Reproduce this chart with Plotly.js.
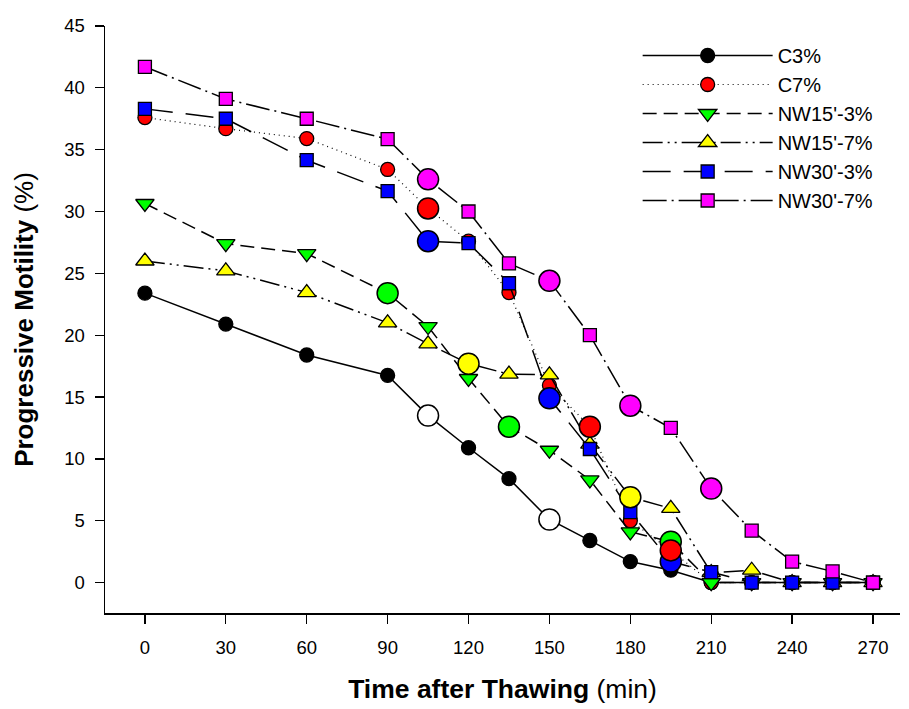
<!DOCTYPE html>
<html><head><meta charset="utf-8">
<script src="https://cdn.plot.ly/plotly-3.0.1.min.js"></script>
<style>body{margin:0;background:#fff;}#chart{width:909px;height:709px;}</style>
</head><body><div id="chart"></div>
<script>
// ---- data ----
const times = [0,30,60,90,105,120,135,150,165,180,195,210,225,240,255,270];
const seriesNames = ["C3%","C7%","NW15'-3%","NW15'-7%","NW30'-3%","NW30'-7%"];
const c3     = [23.4,20.9,18.4,16.75,13.5,10.9,8.4,5.1,3.4,1.7,1.0,0,0,0,0,0];
const c7     = [37.6,36.7,35.9,33.4,30.25,27.6,23.45,15.95,12.6,5.0,2.6,0,0,0,0,0];
const nw15_3 = [30.65,27.4,26.6,23.4,20.7,16.5,12.6,10.7,8.3,4.1,3.3,0,0,0,0,0];
const nw15_7 = [26.0,25.2,23.45,21.0,19.3,17.7,16.85,16.8,11.2,6.9,6.0,0.8,1.0,0,0,0];
const nw30_3 = [38.3,37.5,34.15,31.65,27.6,27.45,24.2,14.9,10.8,5.7,1.7,0.85,0,0,0,0];
const nw30_7 = [41.7,39.1,37.5,35.85,32.6,30.0,25.8,24.4,20.0,14.3,12.5,7.6,4.2,1.7,0.9,0];
// time points that are marked with a large circle in each series
const hiC3     = [105,150];
const hiC7     = [105,165,195];
const hiNW15_3 = [90,135,195];
const hiNW15_7 = [120,180];
const hiNW30_3 = [105,150,195];
const hiNW30_7 = [105,150,180,210];
const xTicks = [0,30,60,90,120,150,180,210,240,270];
const yTicks = [0,5,10,15,20,25,30,35,40,45];

// ---- styles ----
const allValues = [c3,c7,nw15_3,nw15_7,nw30_3,nw30_7];
const allHi = [hiC3,hiC7,hiNW15_3,hiNW15_7,hiNW30_3,hiNW30_7];
const fills = ['#000000','#FF0000','#00FF00','#FFFF00','#0000FF','#FF00FF'];
const hiFills = ['#FFFFFF','#FF0000','#00FF00','#FFFF00','#0000FF','#FF00FF'];
const symbols = ['circle','circle','triangle-down','triangle-up','square','square'];
const sizes = [14,14,16,16,13,13];
const dashes = ['solid','1px,4px','14px,7px','20px,5px,2px,5px,2px,5px','28px,13px','24px,5px,2px,5px'];
const widths = [1.5,1.2,1.5,1.5,1.5,1.5];
const hiOrder = [0,2,4,3,5,1];

const traces = [];
for (let i = 0; i < allValues.length; i++) {
  traces.push({
    x: times, y: allValues[i], name: seriesNames[i], type: 'scatter', mode: 'lines+markers',
    line: {color: '#000', width: widths[i], dash: dashes[i]},
    marker: {symbol: symbols[i], size: sizes[i], color: fills[i], line: {color: '#000', width: 1.3}},
    legendgroup: 'g' + i
  });
}
for (const i of hiOrder) {
  const hx = allHi[i];
  const hy = hx.map(t => allValues[i][times.indexOf(t)]);
  traces.push({
    x: hx, y: hy, type: 'scatter', mode: 'markers', showlegend: false, hoverinfo: 'skip',
    marker: {symbol: 'circle', size: 21, color: hiFills[i], line: {color: '#000', width: 1.5}}
  });
}

const font = 'Arial, "Liberation Sans", sans-serif';
const layout = {
  width: 909, height: 709,
  margin: {l: 105, r: 9, t: 26, b: 96},
  paper_bgcolor: '#fff', plot_bgcolor: '#fff',
  font: {family: font, color: '#000', size: 18},
  showlegend: true,
  legend: {
    x: 0.67, y: 0.983, xanchor: 'left', yanchor: 'top',
    bgcolor: 'rgba(0,0,0,0)', borderwidth: 0,
    font: {family: font, size: 20, color: '#000'},
    itemwidth: 130, tracegroupgap: 0
  },
  xaxis: {
    range: [-14.8, 280], tickmode: 'array', tickvals: xTicks,
    ticks: 'outside', ticklen: 9, tickwidth: 1.3, tickcolor: '#000',
    showline: true, linecolor: '#000', linewidth: 1.5, showgrid: false, zeroline: false,
    tickfont: {family: font, size: 18.5}, ticklabelstandoff: 8,
    title: {text: '<b>Time after Thawing</b> (min)', font: {family: font, size: 26.5}, standoff: 22}
  },
  yaxis: {
    range: [-2.46, 45], tickmode: 'array', tickvals: yTicks,
    ticks: 'outside', ticklen: 9, tickwidth: 1.3, tickcolor: '#000',
    showline: true, linecolor: '#000', linewidth: 1.5, showgrid: false, zeroline: false,
    tickfont: {family: font, size: 18.5}, ticklabelstandoff: 6,
    title: {text: '<b>Progressive Motility</b> (%)', font: {family: font, size: 26}, standoff: 23}
  }
};
Plotly.newPlot('chart', traces, layout, {displayModeBar: false, staticPlot: true});
</script>
</body></html>
